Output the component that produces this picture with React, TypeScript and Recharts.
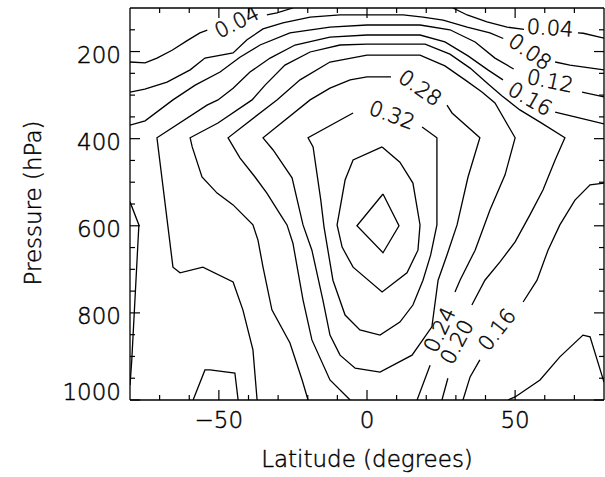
import React from "react";
import { ComposedChart, Line, Scatter, XAxis, YAxis } from "recharts";

type Pt = [number, number]; // [latitude, pressure]

const latTicks = [-70, -60, -50, -40, -30, -20, -10, 0, 10, 20, 30, 40, 50, 60, 70];
const latMajor = [-50, 0, 50];
const pTicks = [150, 200, 250, 300, 350, 400, 450, 500, 550, 600, 650, 700, 750, 800, 850, 900, 950, 1000];
const pMajor = [200, 400, 600, 800, 1000];

// contour lines, broken where a label sits
const level004: Pt[][] = [
  [[-80, 224], [-74.9, 226], [-70.9, 215], [-65.8, 197], [-60.7, 175], [-56.4, 157], [-53.9, 151]],
  [[-33.8, 116], [-30.4, 111], [-25, 100]],
  [[29, 100], [33.8, 116], [40.5, 132], [47.3, 144], [53, 149]],
  [[71.2, 157], [73, 158], [80, 169]],
];

const level008: Pt[][] = [
  [[-80, 293], [-75, 286], [-67.5, 270], [-59.7, 242], [-54.7, 215], [-45.2, 203], [-40.5, 173], [-35.1, 148],
   [-28.4, 134], [-19.2, 121], [-9.1, 116], [0, 116], [12.2, 116], [18.9, 121], [25.7, 128], [33.8, 144],
   [41.5, 157], [46, 170]],
  [[63.5, 224], [68.5, 231], [80, 242]],
];

const level012: Pt[][] = [
  [[-80, 369], [-74.9, 359], [-65.5, 311], [-58, 277], [-49.6, 247], [-42.9, 213], [-36.1, 185], [-26, 157],
   [-12.5, 144], [0, 139], [17.9, 139], [28, 150], [36.5, 178], [43.2, 215], [49.5, 240]],
  [[72.6, 293], [80, 304]],
  [[-58.7, 1000], [-54.7, 931], [-53, 931], [-44.6, 938], [-43.5, 1000]],
  [[-80, 545], [-77, 598], [-79.4, 908], [-80, 966]],
  [[47.6, 1000], [50, 993], [58.4, 954], [65.1, 901], [72.9, 851], [75.3, 855], [80, 959]],
];

const level016: Pt[][] = [
  [[-37.1, 1000], [-38.5, 885], [-41.9, 793], [-45.2, 729], [-55.4, 695], [-63.1, 708], [-65.5, 695],
   [-70.9, 398], [-54, 323], [-50.3, 311], [-45.2, 284], [-39.5, 247], [-32.7, 215], [-24.3, 185],
   [-12.5, 167], [0, 162], [17.9, 162], [26.3, 178], [34.1, 210], [40.8, 242], [45.9, 265]],
  [[63.5, 339], [70.2, 350], [80, 366]],
  [[80, 502], [75.3, 506], [70.2, 541], [65.1, 598], [61.1, 656], [57.4, 725], [52.7, 775]],
  [[38.1, 908], [34.8, 947], [32.4, 1000]],
];

const level020: Pt[][] = [
  [[-19.9, 1000], [-21.9, 954], [-26, 869], [-32.1, 793], [-35.1, 695], [-36.8, 633], [-38.5, 598],
   [-45.2, 552], [-50.6, 525], [-55.7, 488], [-59, 419], [-59.7, 398], [-50.3, 364], [-38.8, 311],
   [-34.4, 277], [-27.7, 231], [-19.2, 201], [-9.1, 185], [0, 183], [19.6, 183], [28, 206], [34.8, 238],
   [40.8, 274], [45.6, 302], [51.6, 334], [58.4, 362], [66.8, 398], [63.5, 449], [59.4, 518], [55, 575],
   [50, 637], [44.9, 683], [39.8, 725], [35.4, 782]],
  [[27.3, 950], [25.3, 1000]],
];

const level024: Pt[][] = [
  [[-5.7, 1000], [-12.5, 954], [-18.6, 862], [-21.6, 770], [-25, 640], [-27, 598], [-28.7, 580],
   [-33.8, 525], [-37.8, 488], [-42.9, 444], [-46.9, 398], [-30.4, 311], [-22.6, 265], [-12.5, 224],
   [0, 208], [17.9, 208], [26.3, 233], [33.1, 265], [38.8, 293], [43.2, 318], [50, 398], [46.6, 483],
   [41.5, 564], [36.5, 656], [31.4, 725], [29.7, 752]],
  [[21.3, 920], [16.9, 1000]],
];

const level028: Pt[][] = [
  [[27, 323], [28.7, 341], [38.1, 398], [34.1, 488], [30.4, 598], [27, 667], [24, 725], [21.9, 832],
   [15.2, 897], [4.4, 936], [-4, 927], [-9.1, 897], [-12.5, 851], [-14.9, 770], [-18.6, 656], [-21.6, 598],
   [-25.3, 490], [-31.7, 426], [-35.1, 398], [-19.2, 311], [-12.5, 284], [-5.7, 265], [0, 258], [8.1, 258]],
];

const level032: Pt[][] = [
  [[18.6, 373], [23.6, 398], [23.6, 598], [21.5, 667], [18.9, 725], [15.5, 782], [11.1, 821], [4.4, 851],
   [-2.4, 839], [-7.4, 805], [-11.5, 725], [-13.2, 656], [-14.5, 603], [-15.6, 541], [-18.2, 419],
   [-19.9, 398], [-4.7, 341]],
];

const level036: Pt[][] = [
  [[5.1, 419], [-4.7, 449], [-7.4, 495], [-10.1, 598], [-8.4, 649], [-4.7, 695], [5.1, 752], [13.5, 708],
   [17.2, 656], [17.9, 598], [15.5, 502], [11.1, 454], [5.1, 419]],
];

const level040: Pt[][] = [
  [[5.4, 527], [10.8, 600], [5.4, 662], [-3.4, 600], [5.4, 527]],
];

const contourSegments: Pt[][] = [
  ...level004, ...level008, ...level012, ...level016, ...level020,
  ...level024, ...level028, ...level032, ...level036, ...level040,
];

const labelText = ["0.04", "0.04", "0.08", "0.12", "0.16", "0.28", "0.32", "0.24", "0.20", "0.16"];
const labelLat = [-43.9, 61.8, 55, 61.8, 55, 17.9, 8.4, 24.6, 30.4, 43.9];
const labelP = [132, 146, 201, 268, 309, 284, 346, 839, 867, 839];
const labelAngle = [-27, 4, 35, 12, 30, 35, 20, -65, -62, -52];

const FONT = "'DejaVu Sans', sans-serif";
const INK = "#000";
// thin Hershey-like lettering
const textStyle = { fontFamily: FONT, fontWeight: 200, fill: INK, stroke: INK, strokeWidth: 0.45 };

const fmtLat = (v: number) => (v < 0 ? `\u2212${Math.abs(v)}` : `${v}`);

function BottomTick(props: any) {
  const { x, y, payload } = props;
  const major = latMajor.includes(payload.value);
  return (
    <g>
      <line x1={x} y1={y} x2={x} y2={y - (major ? 10 : 5)} stroke={INK} strokeWidth={1.2} />
      {major && (
        <text x={x} y={y + 28} textAnchor="middle" fontSize={23} {...textStyle}>
          {fmtLat(payload.value)}
        </text>
      )}
    </g>
  );
}

function TopTick(props: any) {
  const { x, y, payload } = props;
  const major = latMajor.includes(payload.value);
  return <line x1={x} y1={y} x2={x} y2={y + (major ? 10 : 5)} stroke={INK} strokeWidth={1.2} />;
}

function LeftTick(props: any) {
  const { x, y, payload } = props;
  const major = pMajor.includes(payload.value);
  const last = payload.value === 1000;
  return (
    <g>
      <line x1={x} y1={y} x2={x + (major ? 10 : 5)} y2={y} stroke={INK} strokeWidth={1.2} />
      {major && (
        <text x={x - 9} y={last ? y : y + 11} textAnchor="end" fontSize={23} {...textStyle}>
          {payload.value}
        </text>
      )}
    </g>
  );
}

function RightTick(props: any) {
  const { x, y, payload } = props;
  const major = pMajor.includes(payload.value);
  return <line x1={x} y1={y} x2={x - (major ? 10 : 5)} y2={y} stroke={INK} strokeWidth={1.2} />;
}

function ContourLabel(props: any) {
  const { cx, cy, payload } = props;
  if (cx == null || cy == null) return null;
  return (
    <text
      x={cx}
      y={cy}
      transform={`rotate(${payload.angle} ${cx} ${cy})`}
      textAnchor="middle"
      dominantBaseline="central"
      fontSize={21}
      {...textStyle}
    >
      {payload.text}
    </text>
  );
}

function XTitle(props: any) {
  const vb = props.viewBox || { x: 130, y: 399, width: 474, height: 1 };
  return (
    <text x={vb.x + vb.width / 2} y={vb.y + vb.height + 67} textAnchor="middle" fontSize={23} {...textStyle}>
      Latitude (degrees)
    </text>
  );
}

function YTitle(props: any) {
  const vb = props.viewBox || { x: 130, y: 8, height: 392 };
  const x = vb.x - 89;
  const y = vb.y + vb.height / 2 - 1;
  return (
    <text x={x} y={y} transform={`rotate(-90 ${x} ${y})`} textAnchor="middle" fontSize={23} {...textStyle}>
      Pressure (hPa)
    </text>
  );
}

export default function App() {
  const labels = labelText.map((text, i) => ({ lat: labelLat[i], p: labelP[i], text, angle: labelAngle[i] }));
  const axisLine = { stroke: INK, strokeWidth: 1.3 };

  return (
    <div style={{ position: "absolute", left: 0, top: 0, background: "#fff" }}>
      <ComposedChart width={605} height={477} margin={{ top: 8, right: 1, bottom: 77, left: 130 }}>
        <XAxis
          xAxisId="b"
          dataKey="lat"
          type="number"
          domain={[-80, 80]}
          allowDataOverflow
          ticks={latTicks}
          interval={0}
          orientation="bottom"
          mirror
          height={1}
          tickSize={0}
          tickMargin={0}
          tick={BottomTick}
          axisLine={axisLine}
          label={{ content: XTitle }}
        />
        <XAxis
          xAxisId="t"
          dataKey="lat"
          type="number"
          domain={[-80, 80]}
          allowDataOverflow
          ticks={latTicks}
          interval={0}
          orientation="top"
          mirror
          height={1}
          tickSize={0}
          tickMargin={0}
          tick={TopTick}
          axisLine={axisLine}
        />
        <YAxis
          yAxisId="l"
          type="number"
          domain={[100, 1000]}
          reversed
          allowDataOverflow
          ticks={pTicks}
          interval={0}
          orientation="left"
          mirror
          width={1}
          tickSize={0}
          tickMargin={0}
          tick={LeftTick}
          axisLine={axisLine}
          label={{ content: YTitle }}
        />
        <YAxis
          yAxisId="r"
          type="number"
          domain={[100, 1000]}
          reversed
          allowDataOverflow
          ticks={pTicks}
          interval={0}
          orientation="right"
          mirror
          width={1}
          tickSize={0}
          tickMargin={0}
          tick={RightTick}
          axisLine={axisLine}
        />
        {contourSegments.map((seg, i) => (
          <Line
            key={i}
            xAxisId="b"
            yAxisId="l"
            data={seg.map(([lat, p]) => ({ lat, p }))}
            dataKey="p"
            type="linear"
            stroke={INK}
            strokeWidth={1.3}
            dot={false}
            activeDot={false}
            legendType="none"
            isAnimationActive={false}
          />
        ))}
        <Scatter
          xAxisId="b"
          yAxisId="l"
          data={labels}
          dataKey="p"
          shape={ContourLabel}
          legendType="none"
          isAnimationActive={false}
        />
      </ComposedChart>
    </div>
  );
}
